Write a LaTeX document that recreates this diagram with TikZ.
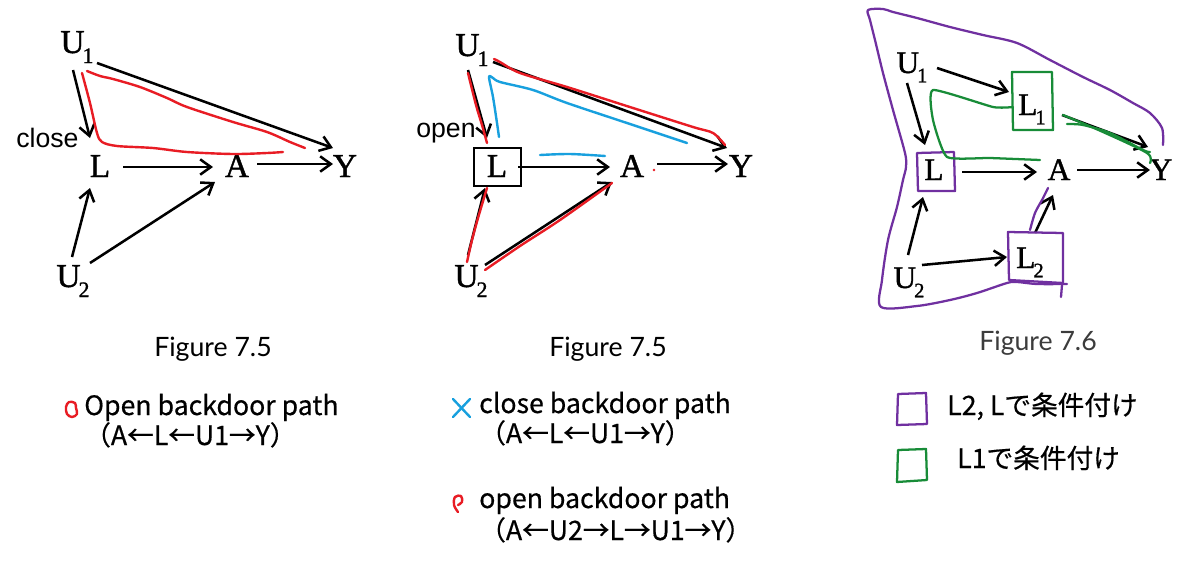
\documentclass[tikz,border=0pt]{standalone}
\usepackage{fontspec}
\setmainfont{Liberation Serif}
\newfontfamily\varfont{Liberation Serif}[FakeBold=1.2]
\newfontfamily\cjk{Noto Sans CJK JP}[FakeBold=0.5]
\newfontfamily\capfont{Lato}
\newfontfamily\lblfont{Liberation Sans}
\usetikzlibrary{arrows.meta,calc}
\definecolor{pred}{RGB}{232,28,36}
\definecolor{pblue}{RGB}{24,160,222}
\definecolor{ppurple}{RGB}{112,48,160}
\definecolor{pgreen}{RGB}{24,140,56}
\definecolor{capgray}{RGB}{60,60,60}
\newcommand\subn[1]{\kern-1.5pt\raisebox{-7.5pt}{\fontsize{16.5}{16.5}\selectfont #1}}
\newcommand\subm[1]{\kern-1.5pt\raisebox{-7pt}{\fontsize{15.5}{15.5}\selectfont #1}}
\begin{document}
\begin{tikzpicture}[x=0.75pt,y=-0.75pt,
  var/.style={inner sep=0pt, anchor=base, font=\varfont\fontsize{25}{26}\selectfont},
  varc/.style={inner sep=0pt, anchor=base, font=\varfont\fontsize{23.5}{24}\selectfont},
  lbl/.style={inner sep=0pt, anchor=base west, font=\lblfont\fontsize{20}{22}\selectfont},
  figcap/.style={inner sep=0pt, anchor=base, font=\capfont\fontsize{20}{22}\selectfont},
  leg/.style={inner sep=0pt, anchor=base west, font=\cjk\fontsize{20}{22}\selectfont},
  arr/.style={line width=1.9pt, -{Straight Barb[length=8pt,width=11.5pt]}},
  redpen/.style={pred, line width=1.8pt, line cap=round, line join=round},
  bluepen/.style={pblue, line width=1.8pt, line cap=round, line join=round},
  purplepen/.style={ppurple, line width=1.7pt, line cap=round, line join=round},
  greenpen/.style={pgreen, line width=1.7pt, line cap=round, line join=round}]
\useasboundingbox[fill=white] (0,0) rectangle (1200,565);

% ---------------- Panel 1 ----------------
\node[var] (u1a) at (77,53) {U\subn{1}};
\node[var] (la) at (100,177) {L};
\node[var] (aa) at (237,177) {A};
\node[var] (ya) at (345,177) {Y};
\node[var] (u2a) at (73,287) {U\subn{2}};
\node[lbl] (closelbl) at (16,147) {close};

\draw[arr] ($(u1a.base)+(-4,17)$) -- ($(la.base)+(-10,-39)$);
\draw[arr] ($(u1a.base)+(20,10)$) -- ($(ya.base)+(-12,-29)$);
\draw[arr] ($(la.base)+(23,-10)$) -- ($(aa.base)+(-24,-10)$);
\draw[arr] ($(aa.base)+(20,-13)$) -- ($(ya.base)+(-12,-13)$);
\draw[arr] ($(u2a.base)+(-1,-30)$) -- ($(la.base)+(-10,11)$);
\draw[arr] ($(u2a.base)+(17,-24)$) -- ($(aa.base)+(-22,5)$);

\draw[redpen] plot[smooth,tension=0.5] coordinates {(82,73) (90,103) (97,133) (102,142) (117,146) (153,148) (187,152) (233,154) (267,153) (283,152)};
\draw[redpen] plot[smooth,tension=0.5] coordinates {(87,71) (100,76) (113,79) (140,87) (167,98) (187,107) (233,122) (267,132) (290,142) (305,148)};

% ---------------- Panel 2 ----------------
\node[var] (u1b) at (472,56) {U\subn{1}};
\node[var] (lb) at (497,177) {L};
\node[var] (ab) at (632,177) {A};
\node[var] (yb) at (741,177) {Y};
\node[var] (u2b) at (471,287) {U\subn{2}};
\node[lbl] (openlbl) at (416,137) {open};
\draw[line width=1.1pt] (474,148) rectangle (521,186);

\draw[arr] ($(u1b.base)+(-4,14)$) -- ($(lb.base)+(-10,-39)$);
\draw[arr] ($(u1b.base)+(21,6)$) -- ($(yb.base)+(-14,-29)$);
\draw[arr] ($(lb.base)+(21,-10)$) -- ($(ab.base)+(-22,-10)$);
\draw[arr] ($(ab.base)+(25,-13)$) -- ($(yb.base)+(-13,-13)$);
\draw[arr] ($(u2b.base)+(-3,-32)$) -- ($(lb.base)+(-12,11)$);
\draw[arr] ($(u2b.base)+(14,-22)$) -- ($(ab.base)+(-20,5)$);

\draw[redpen] plot[smooth,tension=0.5] coordinates {(468,73) (476,105) (482,125) (487,143)};
\draw[redpen] plot[smooth,tension=0.5] coordinates {(467,262) (472,240) (478,218) (487,188)};
\draw[redpen] plot[smooth,tension=0.5] coordinates {(485,270) (520,246) (560,220) (612,183)};
\draw[redpen] plot[smooth,tension=0.5] coordinates {(494,59) (500,62) (520,73) (567,87) (633,108) (693,127) (713,133) (725,145)};
\fill[pred] (654,170) circle (1.3);
\draw[bluepen] plot[smooth,tension=0.5] coordinates {(499,137) (497,123) (493,97) (489,77) (493,78) (500,82) (533,90) (567,103) (633,125) (687,143)};
\draw[bluepen] plot[smooth,tension=0.5] coordinates {(540,155) (570,154) (605,156)};

% ---------------- Panel 3 ----------------
\node[varc] (u1c) at (912,73) {U\subm{1}};
\node[varc] (l1c) at (1032,115) {L\subm{1}};
\node[varc] (lc) at (934,180) {L};
\node[varc] (ac) at (1059,180) {A};
\node[varc] (yc) at (1161,180) {Y};
\node[varc] (l2c) at (1030,268) {L\subm{2}};
\node[varc] (u2c) at (909,288) {U\subm{2}};

\draw[arr] ($(u1c.base)+(25,-5)$) -- ($(l1c.base)+(-23,-23)$);
\draw[arr] ($(u1c.base)+(-5,10)$) -- ($(lc.base)+(-9,-35)$);
\draw[arr] ($(l1c.base)+(30,0)$) -- ($(yc.base)+(-13,-33)$);
\draw[arr] ($(lc.base)+(28,-8)$) -- ($(ac.base)+(-22,-8)$);
\draw[arr] ($(ac.base)+(18,-10)$) -- ($(yc.base)+(-11,-10)$);
\draw[arr] ($(u2c.base)+(-1,-33)$) -- ($(lc.base)+(-11,17)$);
\draw[arr] ($(u2c.base)+(13,-23)$) -- ($(l2c.base)+(-23,-11)$);
\draw[arr] ($(l2c.base)+(5,-35)$) -- ($(ac.base)+(-6,15)$);

% boxes
\draw[purplepen] (917,153) -- (954,152) -- (955,191) -- (918,191) -- cycle;
\draw[purplepen] (1008,232) -- (1063,233) -- (1063,283) -- (1009,280) -- cycle;
\draw[greenpen] (1012,72) -- (1052,72) -- (1053,130) -- (1013,130) -- cycle;
% purple outline
\draw[purplepen] plot[smooth,tension=0.5] coordinates {(1163,145) (1162,128) (1150,113) (1133,103) (1110,90) (1083,77) (1050,60) (1017,43) (983,35) (950,27) (917,18) (893,12) (883,9) (868,10) (870,20) (875,40) (883,73) (893,110) (905,153) (906,167) (903,180) (897,207) (888,240) (882,280) (881,307) (917,306) (950,300) (977,293) (1007,283) (1017,282) (1037,284) (1067,284)};
\draw[purplepen] (1062,285) -- (1061,297);
\draw[purplepen] plot[smooth,tension=0.5] coordinates {(1030,230) (1035,213) (1042,200) (1048,188)};
% green
\draw[greenpen] plot[smooth,tension=0.3] coordinates {(1013,107) (993,107) (933,90) (933,120) (947,157) (990,158) (1040,160)};
\draw[greenpen] plot[smooth,tension=0.5] coordinates {(1067,124) (1083,125) (1110,133) (1143,150) (1150,152)};
\draw[greenpen] plot[smooth,tension=0.5] coordinates {(1063,115) (1103,132) (1147,153) (1150,163)};

% ---------------- Captions ----------------
\node[figcap] (cap1) at (213,356) {Figure 7.5};
\node[figcap] (cap2) at (608,356) {Figure 7.5};
\node[figcap, text=capgray] (cap3) at (1038,350) {Figure 7.6};

% ---------------- Legends ----------------
\draw[redpen] plot[smooth cycle,tension=0.6] coordinates {(75,403) (69,402) (66,407) (67,414) (72,417) (77,414) (76,408)};
\node[leg] (leg1) at (84,415) {Open backdoor path};
\node[leg] (leg1b) at (84,445) {（A←L←U1→Y）};

\draw[bluepen] (453,399) -- (470,417);
\draw[bluepen] (470,399) -- (453,417);
\node[leg] (leg2) at (479,413) {close backdoor path};
\node[leg] (leg2b) at (479,443) {（A←L←U1→Y）};
\draw[redpen] plot[smooth,tension=0.6] coordinates {(458,512) (454,505) (455,497) (461,496) (462,502) (458,505)};
\node[leg] (leg3) at (479,508) {open backdoor path};
\node[leg] (leg3b) at (479,540) {（A←U2→L→U1→Y）};

\draw[purplepen] (898,394) -- (926,393) -- (927,424) -- (897,425) -- cycle;
\node[leg] (leg4) at (947,415) {L2, Lで条件付け};
\draw[greenpen] (898,450) -- (926,449) -- (927,480) -- (897,482) -- cycle;
\node[leg] (leg5) at (957,468) {L1で条件付け};
\end{tikzpicture}
\end{document}
